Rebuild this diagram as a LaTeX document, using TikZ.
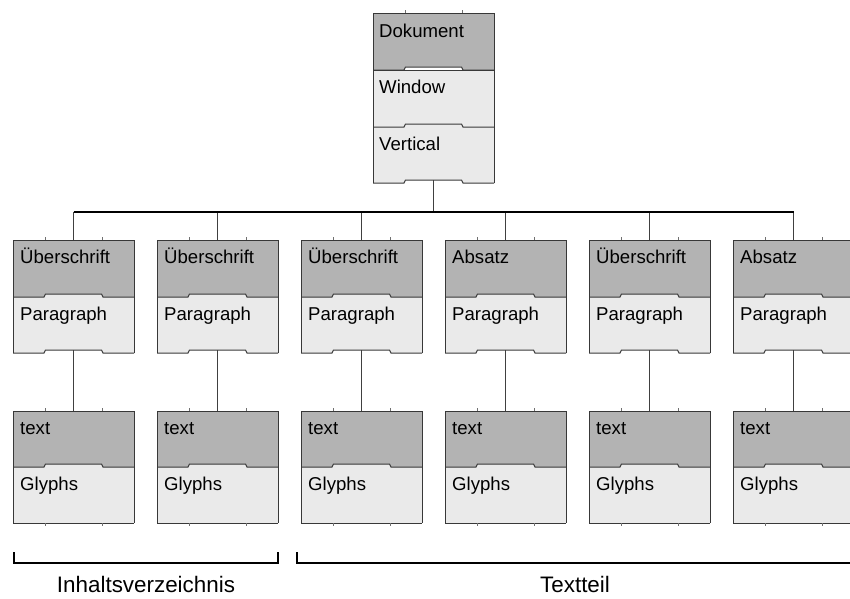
\documentclass[tikz,border=0pt]{standalone}
\usepackage{fontspec}
\setmainfont{Liberation Sans}
\definecolor{headgray}{HTML}{B3B3B3}
\definecolor{bodygray}{HTML}{EAEAEA}
\definecolor{edgegray}{HTML}{383838}
\definecolor{linkgray}{HTML}{404040}
\definecolor{tickgray}{HTML}{707070}

% a divider whose middle part is raised by 3 units (tab notch)
\newcommand\NotchRule[2]{%
  \draw[edge] (#1,#2) -- (#1+31,#2) -- (#1+32.5,#2-3) -- (#1+88.5,#2-3) -- (#1+90,#2) -- (#1+121,#2);}
% head section filled dark, with a notched lower edge
\newcommand\HeadFill[3]{%
  \fill[headgray] (#1,#2) -- (#1+121,#2) -- (#1+121,#3) -- (#1+90,#3) -- (#1+88.5,#3-3)
    -- (#1+32.5,#3-3) -- (#1+31,#3) -- (#1,#3) -- cycle;}
% the empty notch gap below a section
\newcommand\NotchGap[2]{%
  \fill[white] (#1+31,#2) -- (#1+32.5,#2-3) -- (#1+88.5,#2-3) -- (#1+90,#2) -- cycle;}
% outer frame with small marks above the top edge
\newcommand\CardFrame[3]{%
  \draw[edge] (#1,#3) -- (#1,#2) -- (#1+121,#2) -- (#1+121,#3);
  \draw[tick] (#1+32,#2) -- (#1+32,#2-3) (#1+89,#2) -- (#1+89,#2-3);}

\begin{document}
\begin{tikzpicture}[x=1pt,y=-1pt,
  edge/.style={draw=edgegray, line width=1pt},
  link/.style={draw=linkgray, line width=1pt},
  bus/.style={draw=black, line width=2pt},
  brace/.style={draw=black, line width=2pt},
  tick/.style={draw=tickgray, line width=0.8pt},
  cardtext/.style={anchor=base west, inner sep=0pt, font=\fontsize{18.6}{20}\selectfont},
  caption/.style={anchor=base, inner sep=0pt, font=\fontsize{22.4}{24}\selectfont},
  cardarea/.style={inner sep=0pt, outer sep=0pt, minimum width=121pt}]

\useasboundingbox (0,0) rectangle (850,598);
\clip (0,0) rectangle (850,598);

% ---- root card: Dokument / Window / Vertical ----
\fill[bodygray] (373,67) rectangle (494,183);
\HeadFill{373}{13}{70}
\NotchGap{373}{70}
\NotchGap{373}{183}
\CardFrame{373}{13}{183}
\NotchRule{373}{70}
\draw[edge] (373,70) -- (494,70);
\NotchRule{373}{127}
\NotchRule{373}{183}
\node[cardtext] (docA) at (379,37) {Dokument};
\node[cardtext] (docB) at (379,93) {Window};
\node[cardtext] (docC) at (379,150) {Vertical};
\node[cardarea, minimum height=170pt] (doc) at (433.5,98) {};

% ---- bus ----
\coordinate (bus) at (433.5,212);
\draw[link] ([yshift=3pt]doc.south) -- (bus);

\foreach \i/\L/\H in {1/13/Überschrift,2/157/Überschrift,3/301/Überschrift,
                     4/445/Absatz,5/589/Überschrift,6/733/Absatz}{
  % second level: head + Paragraph
  \fill[bodygray] (\L,294) rectangle (\L+121,353);
  \HeadFill{\L}{240}{297}
  \NotchGap{\L}{353}
  \CardFrame{\L}{240}{353}
  \NotchRule{\L}{297}
  \NotchRule{\L}{353}
  \node[cardtext] (hA\i) at (\L+7,263) {\H};
  \node[cardtext] (hB\i) at (\L+7,320) {Paragraph};
  \node[cardarea, minimum height=113pt] (h\i) at (\L+60.5,296.5) {};
  % third level: text + Glyphs
  \fill[bodygray] (\L,464) rectangle (\L+121,523);
  \HeadFill{\L}{411}{467}
  \CardFrame{\L}{411}{523}
  \NotchRule{\L}{467}
  \draw[edge] (\L,523) -- (\L+121,523);
  \draw[tick] (\L+32,523) -- (\L+32,526) (\L+89,523) -- (\L+89,526);
  \node[cardtext] (tA\i) at (\L+7,434) {text};
  \node[cardtext] (tB\i) at (\L+7,490) {Glyphs};
  \node[cardarea, minimum height=112pt] (t\i) at (\L+60.5,467) {};
  % connectors
  \coordinate (bus\i) at (\L+60.5,212);
  \draw[link] (bus\i) -- (h\i.north);
  \draw[link] ([yshift=3pt]h\i.south) -- (t\i.north);
}
\draw[bus] (bus1) -- (bus6);

% ---- group brackets ----
\coordinate (ivL) at (14,552);
\coordinate (ivR) at (278,552);
\coordinate (ttL) at (297,552);
\coordinate (ttR) at (853,552);
\draw[brace] (ivL) -- ++(0,11) -| (ivR);
\draw[brace] (ttL) -- ++(0,11) -| (ttR);
\node[caption] (iv) at (146,592) {Inhaltsverzeichnis};
\node[caption] (tt) at (575,592) {Textteil};
\end{tikzpicture}
\end{document}
